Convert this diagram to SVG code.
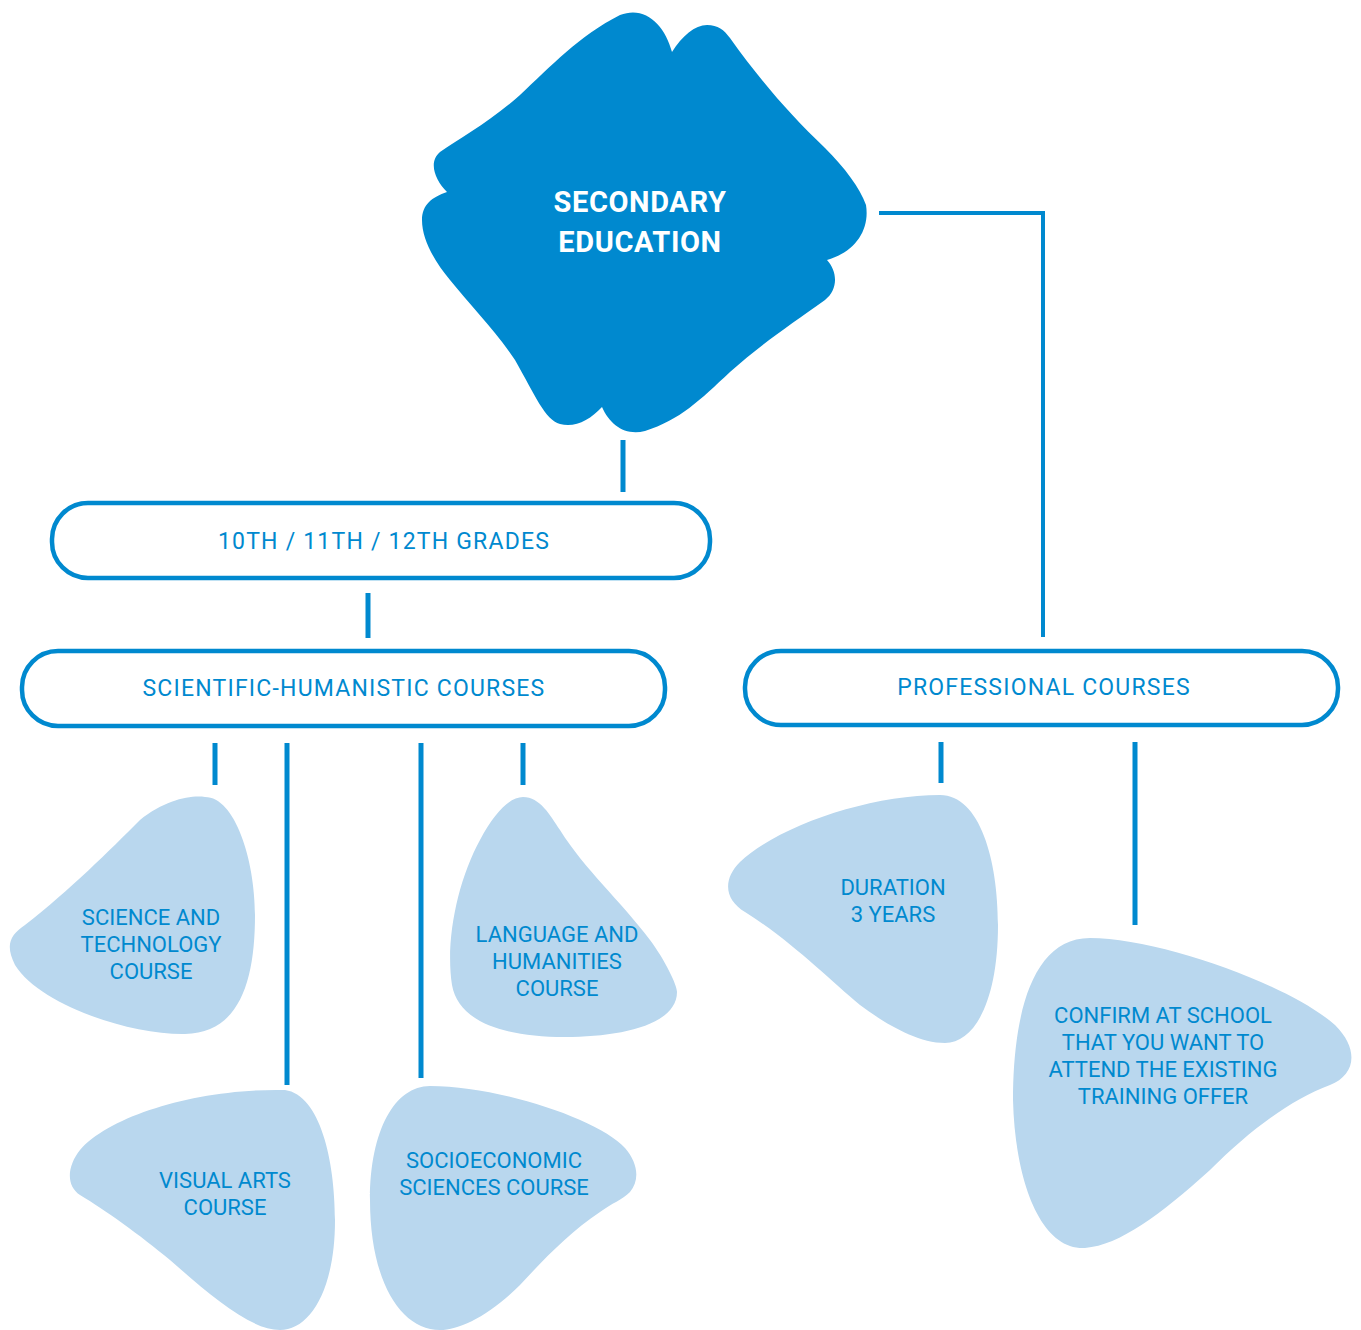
<svg xmlns="http://www.w3.org/2000/svg" width="1361" height="1330" viewBox="0 0 1361 1330">
<style>
.conn{stroke:#0089cf;stroke-width:5;fill:none}
.box{fill:#fff;stroke:#0089cf;stroke-width:4.5}
.blob{fill:#b9d7ee}
.t{font-family:Roboto,"Liberation Sans",sans-serif;fill:#0089cf;text-anchor:middle;font-size:22px}
.tb{font-family:Roboto,"Liberation Sans",sans-serif;fill:#0089cf;text-anchor:middle;font-size:23px;letter-spacing:1.2px}
.tw{font-family:Roboto,"Liberation Sans",sans-serif;fill:#fff;text-anchor:middle;font-size:29px;font-weight:bold;letter-spacing:0.6px}
</style>
<rect width="1361" height="1330" fill="#fff"/>
<g id="connectors">
<line class="conn" x1="623" y1="440" x2="623" y2="492"/>
<polyline class="conn" points="879,213 1043,213 1043,637" style="stroke-width:4"/>
<line class="conn" x1="368" y1="593" x2="368" y2="638"/>
<line class="conn" x1="215" y1="743" x2="215" y2="785"/>
<line class="conn" x1="287" y1="743" x2="287" y2="1085"/>
<line class="conn" x1="421" y1="743" x2="421" y2="1078"/>
<line class="conn" x1="523" y1="743" x2="523" y2="785"/>
<line class="conn" x1="941" y1="742" x2="941" y2="783"/>
<line class="conn" x1="1135" y1="742" x2="1135" y2="925"/>
</g>
<g id="secondary">
<path fill="#0089cf" d="M 672 52 C 682 36, 695 25, 707 25 C 718 25, 724 30, 730 38 C 760 80, 790 115, 825 148 C 845 168, 860 188, 866 205 C 870 230, 855 252, 827 260 C 838 272, 838 290, 825 300 C 790 325, 760 345, 730 372 C 700 400, 680 420, 645 431 C 625 436, 610 425, 602 407 C 590 420, 575 428, 560 424 C 545 420, 535 395, 515 360 C 495 330, 470 305, 450 280 C 435 262, 422 240, 422 220 C 422 205, 432 197, 447 192 C 435 180, 428 162, 440 152 C 460 138, 490 122, 520 95 C 550 67, 580 35, 620 15 C 645 5, 665 25, 672 52 Z"/>
<text class="tw" x="640" y="212">SECONDARY</text>
<text class="tw" x="640" y="252">EDUCATION</text>
</g>
<g id="grades">
<rect class="box" x="52" y="503" width="658" height="75" rx="36"/>
<text class="tb" x="384" y="549">10TH / 11TH / 12TH GRADES</text>
</g>
<g id="scientific">
<rect class="box" x="22" y="651" width="643" height="75" rx="36"/>
<text class="tb" x="344" y="696">SCIENTIFIC-HUMANISTIC COURSES</text>
</g>
<g id="professional">
<rect class="box" x="745" y="651" width="593" height="74" rx="36"/>
<text class="tb" x="1044" y="695">PROFESSIONAL COURSES</text>
</g>
<g id="science-tech">
<path class="blob" d="M 205 797 C 235 797, 255 860, 255 915 C 255 980, 240 1033, 185 1034 C 130 1035, 40 1005, 15 965 C 5 945, 10 935, 25 925 C 70 890, 110 850, 140 820 C 165 800, 190 795, 205 797 Z"/>
<text class="t" x="151" y="925">SCIENCE AND</text>
<text class="t" x="151" y="952">TECHNOLOGY</text>
<text class="t" x="151" y="979">COURSE</text>
</g>
<g id="language">
<path class="blob" d="M 523 797 C 540 797, 550 815, 560 830 C 585 870, 620 900, 650 940 C 665 960, 677 985, 677 992 C 677 1025, 620 1037, 565 1037 C 500 1037, 458 1020, 452 985 C 445 940, 458 880, 480 840 C 495 812, 510 797, 523 797 Z"/>
<text class="t" x="557" y="942">LANGUAGE AND</text>
<text class="t" x="557" y="969">HUMANITIES</text>
<text class="t" x="557" y="996">COURSE</text>
</g>
<g id="visual-arts">
<path class="blob" d="M 285 1090 C 320 1095, 335 1160, 335 1220 C 335 1290, 310 1330, 280 1330 C 250 1330, 210 1295, 170 1260 C 140 1235, 105 1210, 80 1195 C 65 1185, 68 1165, 80 1150 C 110 1115, 200 1088, 285 1090 Z"/>
<text class="t" x="225" y="1188">VISUAL ARTS</text>
<text class="t" x="225" y="1215">COURSE</text>
</g>
<g id="socioeconomic">
<path class="blob" d="M 430 1086 C 500 1086, 600 1120, 625 1148 C 638 1163, 640 1180, 630 1192 C 622 1200, 612 1203, 600 1212 C 570 1232, 545 1258, 520 1285 C 490 1315, 460 1330, 440 1330 C 400 1330, 370 1280, 370 1200 C 370 1130, 395 1086, 430 1086 Z"/>
<text class="t" x="494" y="1168">SOCIOECONOMIC</text>
<text class="t" x="494" y="1195">SCIENCES COURSE</text>
</g>
<g id="duration">
<path class="blob" d="M 940 795 C 980 795, 998 860, 998 925 C 998 1000, 975 1043, 945 1043 C 915 1043, 880 1020, 860 1005 C 830 980, 790 940, 745 912 C 725 900, 722 880, 740 862 C 780 825, 870 795, 940 795 Z"/>
<text class="t" x="893" y="895">DURATION</text>
<text class="t" x="893" y="922">3 YEARS</text>
</g>
<g id="confirm">
<path class="blob" d="M 1090 938 C 1160 938, 1290 985, 1335 1025 C 1360 1050, 1355 1075, 1330 1085 C 1290 1100, 1250 1130, 1210 1170 C 1160 1215, 1120 1245, 1085 1248 C 1040 1250, 1015 1180, 1013 1100 C 1013 1020, 1030 938, 1090 938 Z"/>
<text class="t" x="1163" y="1023">CONFIRM AT SCHOOL</text>
<text class="t" x="1163" y="1050">THAT YOU WANT TO</text>
<text class="t" x="1163" y="1077">ATTEND THE EXISTING</text>
<text class="t" x="1163" y="1104">TRAINING OFFER</text>
</g>
</svg>
